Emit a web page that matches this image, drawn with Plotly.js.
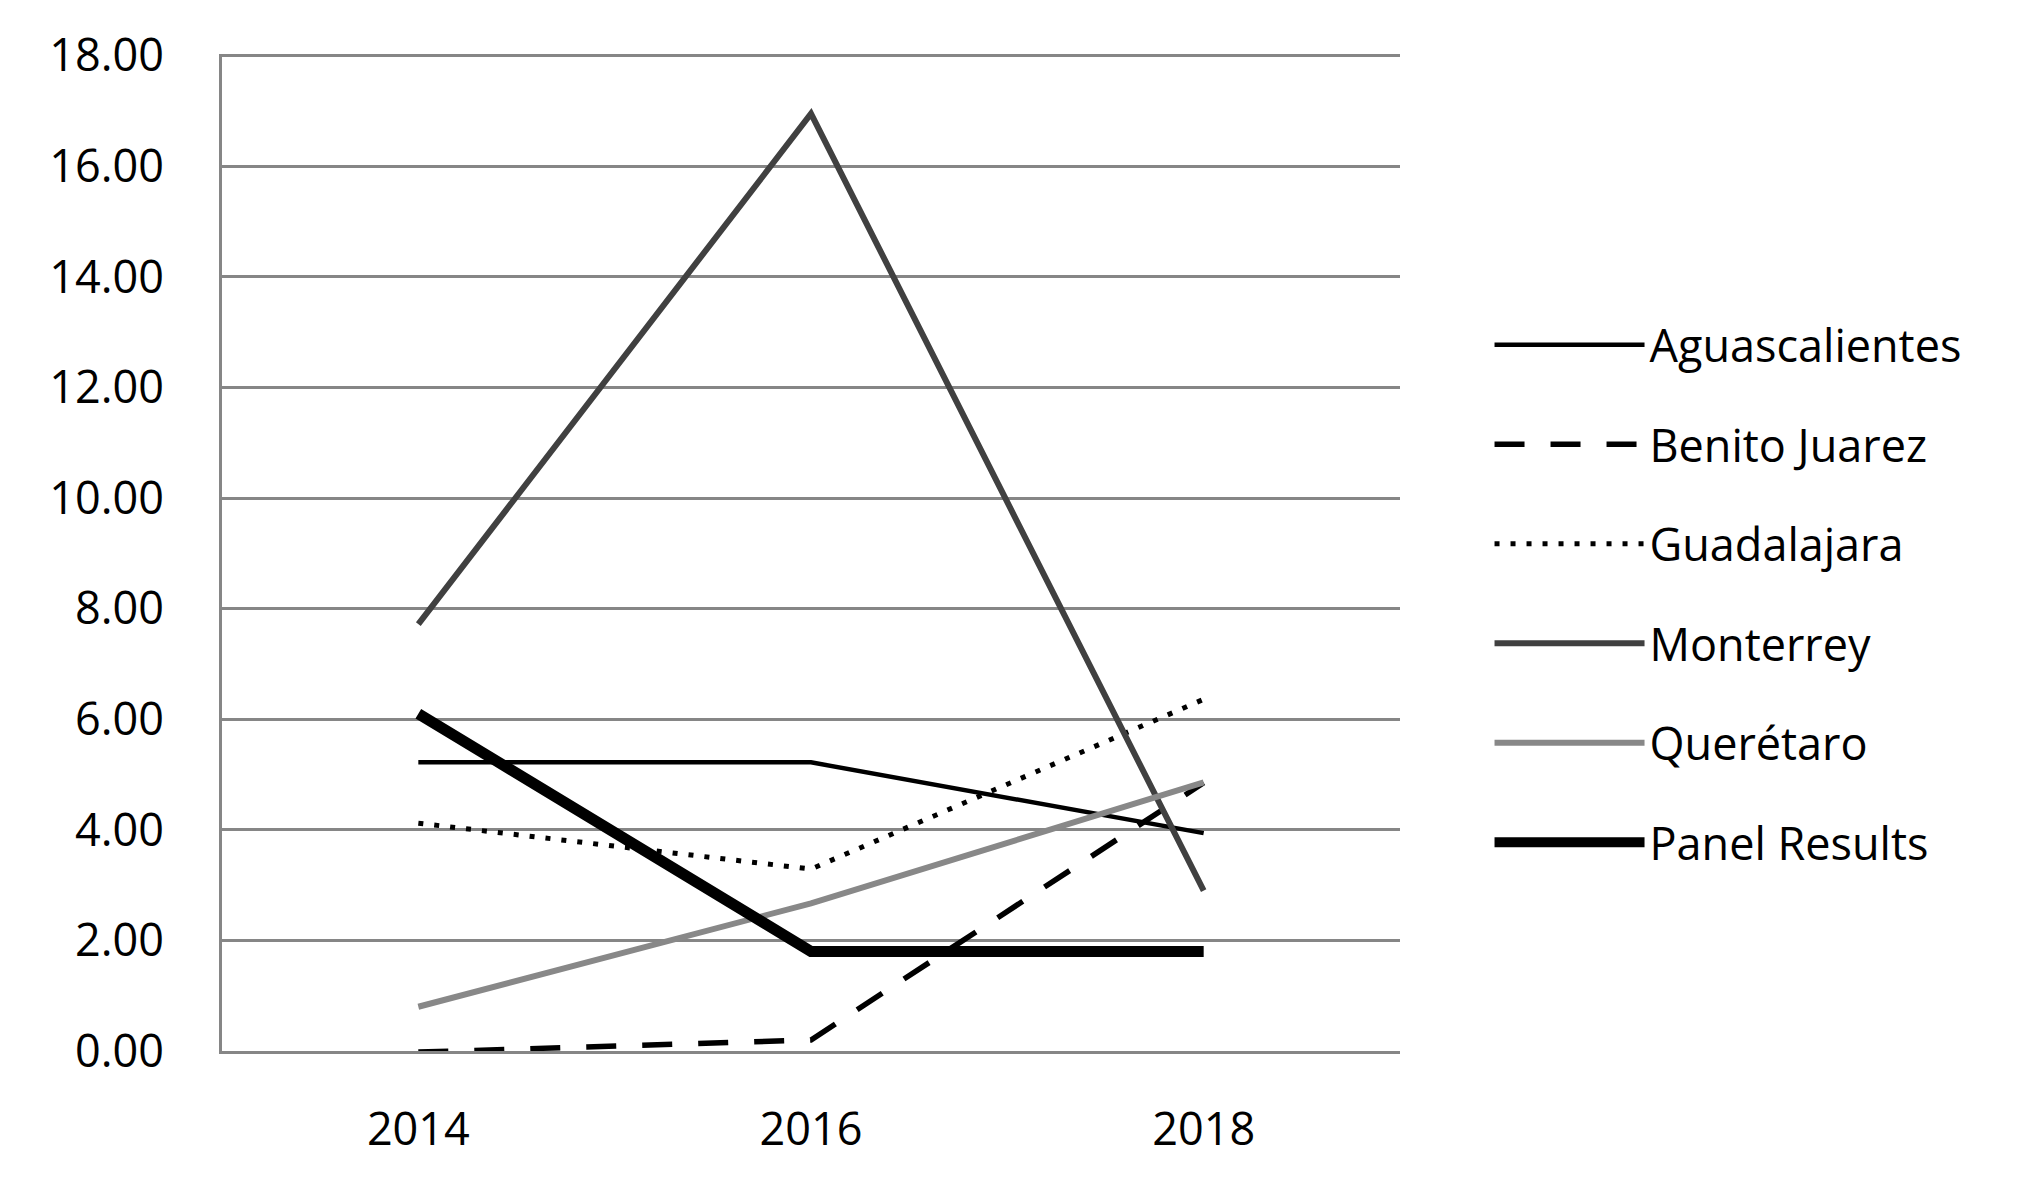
<!DOCTYPE html>
<html>
<head>
<meta charset="utf-8">
<script src="https://cdn.plot.ly/plotly-3.0.1.min.js"></script>
<style>
  html, body { margin: 0; padding: 0; background: #fff; }
  #plot { width: 2025px; height: 1180px; }
</style>
</head>
<body>
<div id="plot"></div>
<script>
var years = ['2014', '2016', '2018'];

var aguascalientes = [5.22, 5.22, 3.94];
var benitoJuarez = [-0.02, 0.2, 4.85];
var guadalajara = [4.12, 3.29, 6.36];
var monterrey = [7.72, 16.95, 2.9];
var queretaro = [0.8, 2.67, 4.86];
var panelResults = [6.1, 1.8, 1.8];

var yTicks = [0, 2, 4, 6, 8, 10, 12, 14, 16, 18];
var yTickText = ['0.00', '2.00', '4.00', '6.00', '8.00', '10.00', '12.00', '14.00', '16.00', '18.00'];

var fontFamily = '"Open Sans", Lato, sans-serif';

function series(name, y, color, width, dash) {
  return {
    x: years,
    y: y,
    name: name,
    type: 'scatter',
    mode: 'lines',
    legendgroup: name,
    line: {color: color, width: width, dash: dash || 'solid'},
    cliponaxis: false,
    hoverinfo: 'none'
  };
}

var data = [
  series('Aguascalientes', aguascalientes, '#000000', 4.5),
  series('Benito Juarez', benitoJuarez, '#000000', 5.5, '30px,26px'),
  series('Guadalajara', guadalajara, '#000000', 5, '5px,11px'),
  series('Monterrey', monterrey, '#404040', 6),
  series('Querétaro', queretaro, '#888888', 6),
  series('Panel Results', panelResults, '#000000', 11)
];

var layout = {
  width: 2025,
  height: 1180,
  margin: {l: 222, r: 625, t: 54, b: 129},
  paper_bgcolor: '#ffffff',
  plot_bgcolor: '#ffffff',
  font: {family: fontFamily, size: 45, color: '#000000'},
  showlegend: true,
  legend: {
    x: 1.076, xanchor: 'left',
    y: 0.459, yanchor: 'middle',
    traceorder: 'grouped',
    tracegroupgap: 38,
    itemwidth: 150,
    font: {family: fontFamily, size: 45, color: '#000000'},
    bgcolor: 'rgba(0,0,0,0)'
  },
  xaxis: {
    type: 'category',
    range: [-0.5, 2.5],
    showgrid: false,
    zeroline: false,
    showline: true,
    linecolor: '#868686',
    linewidth: 3,
    ticks: '',
    ticklabelstandoff: 37,
    tickfont: {size: 45}
  },
  yaxis: {
    range: [0, 18.03],
    tickvals: yTicks,
    ticktext: yTickText,
    showgrid: true,
    gridcolor: '#868686',
    gridwidth: 3,
    zeroline: false,
    showline: true,
    linecolor: '#868686',
    linewidth: 3,
    ticks: '',
    ticklabelstandoff: 46,
    tickfont: {size: 45}
  }
};

Plotly.newPlot('plot', data, layout, {staticPlot: true});
</script>
</body>
</html>
